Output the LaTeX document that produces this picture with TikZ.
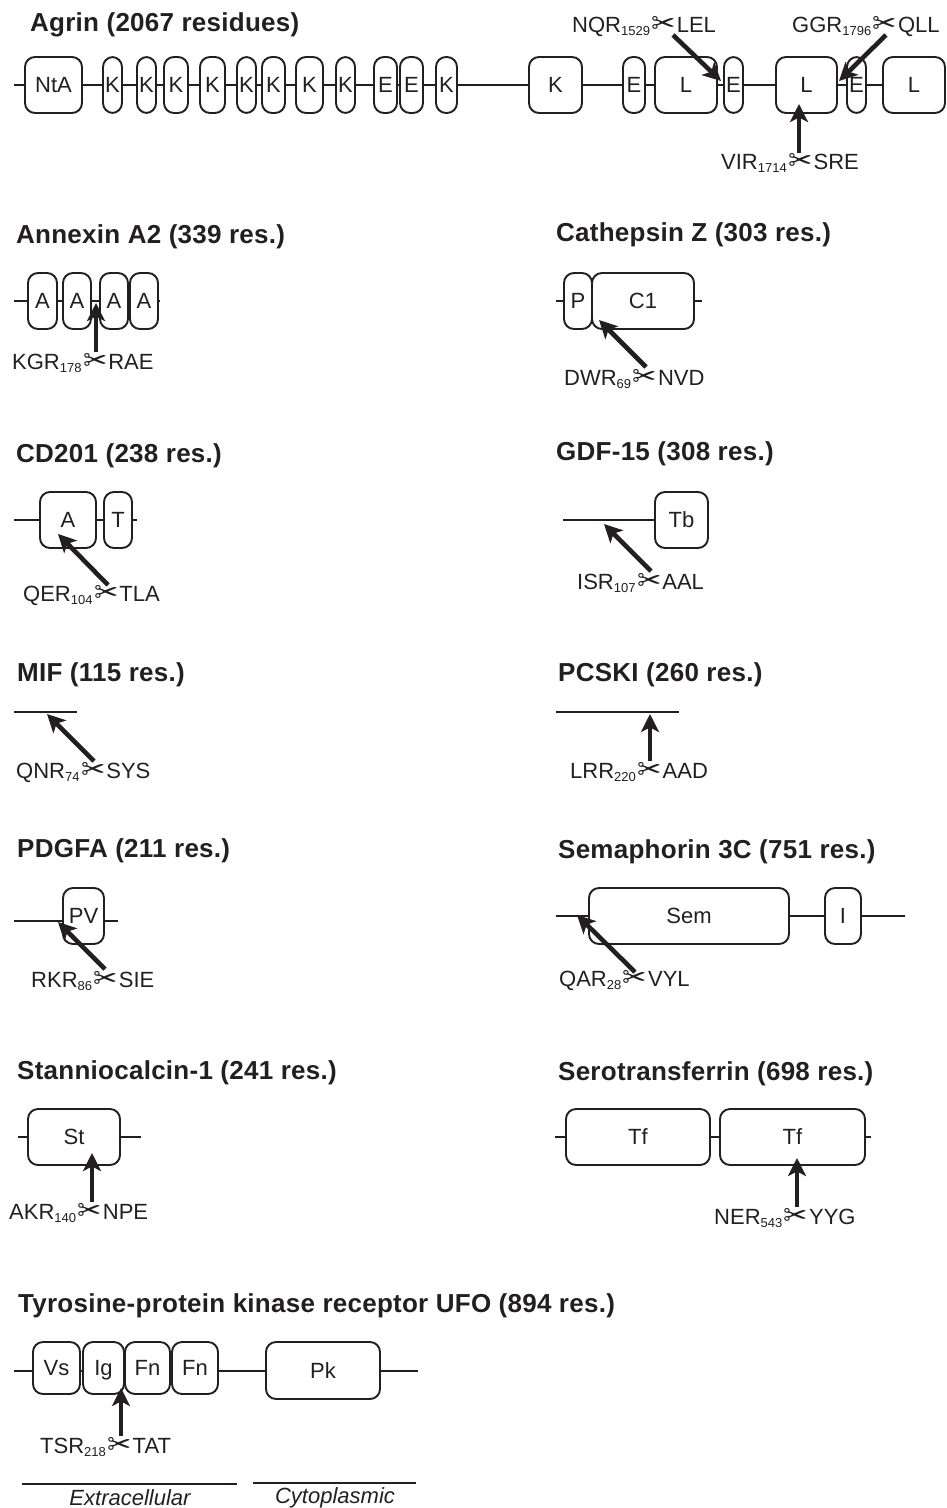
\documentclass[tikz,border=0pt]{standalone}
\usepackage{fontspec}
\setmainfont{Liberation Sans}
\newfontfamily\titlefont[LetterSpace=1]{Liberation Sans}
\newfontfamily\symfont{DejaVu Sans}
\usetikzlibrary{arrows.meta}
\definecolor{ink}{HTML}{231F20}
\tikzset{
    dombox/.style={draw=ink,line width=1.9pt,rounded corners=10pt,inner sep=0pt,outer sep=0pt,
        text=ink,text height=15.5pt,text depth=0pt,font=\fontsize{22}{24}\selectfont},
    backbone/.style={draw=ink,line width=1.9pt},
    cleave/.style={draw=ink,line width=4.6pt,-{Stealth[length=18pt,width=18pt,inset=4.5pt]}},
    titletext/.style={anchor=base west,inner sep=0pt,text=ink,font=\titlefont\bfseries\fontsize{26}{28}\selectfont},
    sitetext/.style={anchor=base west,inner sep=0pt,text=ink,font=\fontsize{22}{24}\selectfont},
    regiontext/.style={anchor=base,inner sep=0pt,text=ink,font=\itshape\fontsize{22}{24}\selectfont},
}
\newcommand{\dom}[6][56]{\node[dombox,minimum width={(#4-#3)*1pt},minimum height=#1pt] (#2) at ({(#3+#4)/2},#5) {#6};}
\newcommand{\site}[6]{\node[sitetext] (#1) at (#2,#3) {#4\raisebox{-3.5pt}{\fontsize{13}{13}\selectfont #5}\kern1.5pt\raisebox{-1.5pt}{\symfont\fontsize{29}{29}\selectfont\char"2702}\kern1pt#6};}
\begin{document}
\begin{tikzpicture}[x=1pt,y=-1pt]
    \useasboundingbox (0,0) rectangle (946,1508);
    % Agrin
    \node[titletext] (tagr) at (30,31) {Agrin (2067 residues)};
    \coordinate (agrs) at (14,85);
    \dom{nta}{25}{82}{85}{NtA}
    \dom{ka}{103}{122}{85}{K}
    \dom{kb}{137}{156}{85}{K}
    \dom{kc}{164}{188}{85}{K}
    \dom{kd}{200}{225}{85}{K}
    \dom{ke}{237}{256}{85}{K}
    \dom{kf}{262}{285}{85}{K}
    \dom{kg}{296}{323}{85}{K}
    \dom{kh}{336}{355}{85}{K}
    \dom{ea}{374}{397}{85}{E}
    \dom{eb}{400}{423}{85}{E}
    \dom{ki}{436}{457}{85}{K}
    \dom{kj}{529}{582}{85}{K}
    \dom{ec}{623}{645}{85}{E}
    \dom{la}{655}{717}{85}{L}
    \dom{ed}{724}{743}{85}{E}
    \dom{lb}{776}{837}{85}{L}
    \dom{ee}{847}{866}{85}{E}
    \dom{lc}{883}{945}{85}{L}
    \foreach \a/\b in {agrs/nta,nta/ka,ka/kb,kb/kc,kc/kd,kd/ke,ke/kf,kf/kg,kg/kh,kh/ea,ea/eb,eb/ki,ki/kj,kj/ec,ec/la,la/ed,ed/lb,lb/ee,ee/lc}
    \draw[backbone] (\a)--(\b);
    \site{nqr}{572}{32}{NQR}{1529}{LEL}
    \site{ggr}{792}{32}{GGR}{1796}{QLL}
    \site{vir}{721}{169}{VIR}{1714}{SRE}
    % Annexin A2
    \node[titletext] (tann) at (16,243) {Annexin A2 (339 res.)};
    \coordinate (anns) at (14,301);
    \coordinate (anne) at (160,301);
    \dom{aa}{28}{57}{301}{A}
    \dom{ab}{63}{91}{301}{A}
    \dom{ac}{100}{128}{301}{A}
    \dom{ad}{130}{158}{301}{A}
    \foreach \a/\b in {anns/aa,aa/ab,ab/ac,ac/ad,ad/anne}
    \draw[backbone] (\a)--(\b);
    \site{kgr}{12}{369}{KGR}{178}{RAE}
    % CD201
    \node[titletext] (tcd) at (16,462) {CD201 (238 res.)};
    \coordinate (cds) at (14,520);
    \coordinate (cde) at (137,520);
    \dom{ca}{40}{96}{520}{A}
    \dom{ct}{104}{132}{520}{T}
    \foreach \a/\b in {cds/ca,ca/ct,ct/cde}
    \draw[backbone] (\a)--(\b);
    \site{qer}{23}{601}{QER}{104}{TLA}
    % Cathepsin Z
    \node[titletext] (tcat) at (556,241) {Cathepsin Z (303 res.)};
    \coordinate (cats) at (556,301);
    \coordinate (cate) at (702,301);
    \dom{cp}{564}{592}{301}{P}
    \dom{cc}{592}{694}{301}{C1}
    \foreach \a/\b in {cats/cp,cc/cate}
    \draw[backbone] (\a)--(\b);
    \site{dwr}{564}{385}{DWR}{69}{NVD}
    % GDF-15
    \node[titletext] (tgdf) at (556,460) {GDF-15 (308 res.)};
    \coordinate (gdfs) at (563,520);
    \dom{tb}{655}{708}{520}{Tb}
    \draw[backbone] (gdfs)--(tb);
    \site{isr}{577}{589}{ISR}{107}{AAL}
    % MIF
    \node[titletext] (tmif) at (17,681) {MIF (115 res.)};
    \coordinate (mifs) at (14,712);
    \coordinate (mife) at (77,712);
    \draw[backbone] (mifs)--(mife);
    \site{qnr}{16}{778}{QNR}{74}{SYS}
    % PCSKI
    \node[titletext] (tpcs) at (558,681) {PCSKI (260 res.)};
    \coordinate (pcss) at (556,712);
    \coordinate (pcse) at (679,712);
    \draw[backbone] (pcss)--(pcse);
    \site{lrr}{570}{778}{LRR}{220}{AAD}
    % PDGFA
    \node[titletext] (tpdg) at (17,857) {PDGFA (211 res.)};
    \coordinate (pdgs) at (14,921);
    \coordinate (pdge) at (118,921);
    \dom{pv}{63}{104}{916}{PV}
    \draw[backbone] (pdgs)--(pdgs-|pv.west) (pv.east|-pdge)--(pdge);
    \site{rkr}{31}{987}{RKR}{86}{SIE}
    % Semaphorin 3C
    \node[titletext] (tsem) at (558,858) {Semaphorin 3C (751 res.)};
    \coordinate (sems) at (556,916);
    \coordinate (seme) at (905,916);
    \dom{sem}{589}{789}{916}{Sem}
    \dom{psi}{825}{861}{916}{I}
    \foreach \a/\b in {sems/sem,sem/psi,psi/seme}
    \draw[backbone] (\a)--(\b);
    \site{qar}{559}{986}{QAR}{28}{VYL}
    % Stanniocalcin-1
    \node[titletext] (tsta) at (17,1079) {Stanniocalcin-1 (241 res.)};
    \coordinate (stas) at (18,1137);
    \coordinate (stae) at (141,1137);
    \dom{st}{28}{120}{1137}{St}
    \foreach \a/\b in {stas/st,st/stae}
    \draw[backbone] (\a)--(\b);
    \site{akr}{9}{1219}{AKR}{140}{NPE}
    % Serotransferrin
    \node[titletext] (tser) at (558,1080) {Serotransferrin (698 res.)};
    \coordinate (sers) at (555,1137);
    \coordinate (sere) at (871,1137);
    \dom{tfa}{566}{710}{1137}{Tf}
    \dom{tfb}{720}{865}{1137}{Tf}
    \foreach \a/\b in {sers/tfa,tfa/tfb,tfb/sere}
    \draw[backbone] (\a)--(\b);
    \site{ner}{714}{1224}{NER}{543}{YYG}
    % UFO
    \node[titletext] (tufo) at (18,1312) {Tyrosine-protein kinase receptor UFO (894 res.)};
    \coordinate (ufos) at (14,1371);
    \coordinate (ufoe) at (418,1371);
    \dom[52]{vs}{33}{80}{1368}{Vs}
    \dom[52]{ig}{83}{124}{1368}{Ig}
    \dom[52]{fna}{125}{170}{1368}{Fn}
    \dom[52]{fnb}{172}{218}{1368}{Fn}
    \dom[57]{pk}{266}{380}{1370.5}{Pk}
    \draw[backbone] (ufos)--(ufos-|vs.west) (vs.east|-ufos)--(ufos-|ig.west)
    (fnb.east|-ufos)--(ufos-|pk.west) (pk.east|-ufos)--(ufoe);
    \site{tsr}{40}{1453}{TSR}{218}{TAT}
    % cleavage arrows
    \foreach \n/\xa/\ya/\xb/\yb in {nq/673/35/721/81,gg/886/35/839/81,vi/799/153/799/104,
        kg/96/352/96/303,qe/108/585/58/534,dw/646/367/599/320,is/651/571/604/524,
        qn/94/761/47/714,lr/650/761/650/714,rk/105/969/58/922,qa/635/972/577/915,
        ak/92/1202/92/1153,ne/797/1207/797/1158,ts/121/1436/121/1388}{
        \coordinate (\n s) at (\xa,\ya);
        \coordinate (\n t) at (\xb,\yb);
        \draw[cleave] (\n s)--(\n t);
    }
    % regions
    \coordinate (exa) at (22,1484);
    \coordinate (exb) at (237,1484);
    \coordinate (cya) at (253,1483);
    \coordinate (cyb) at (416,1483);
    \draw[backbone] (exa)--(exb);
    \draw[backbone] (cya)--(cyb);
    \node[regiontext] (extra) at (130,1505) {Extracellular};
    \node[regiontext] (cyto) at (335,1503) {Cytoplasmic};
\end{tikzpicture}
\end{document}
